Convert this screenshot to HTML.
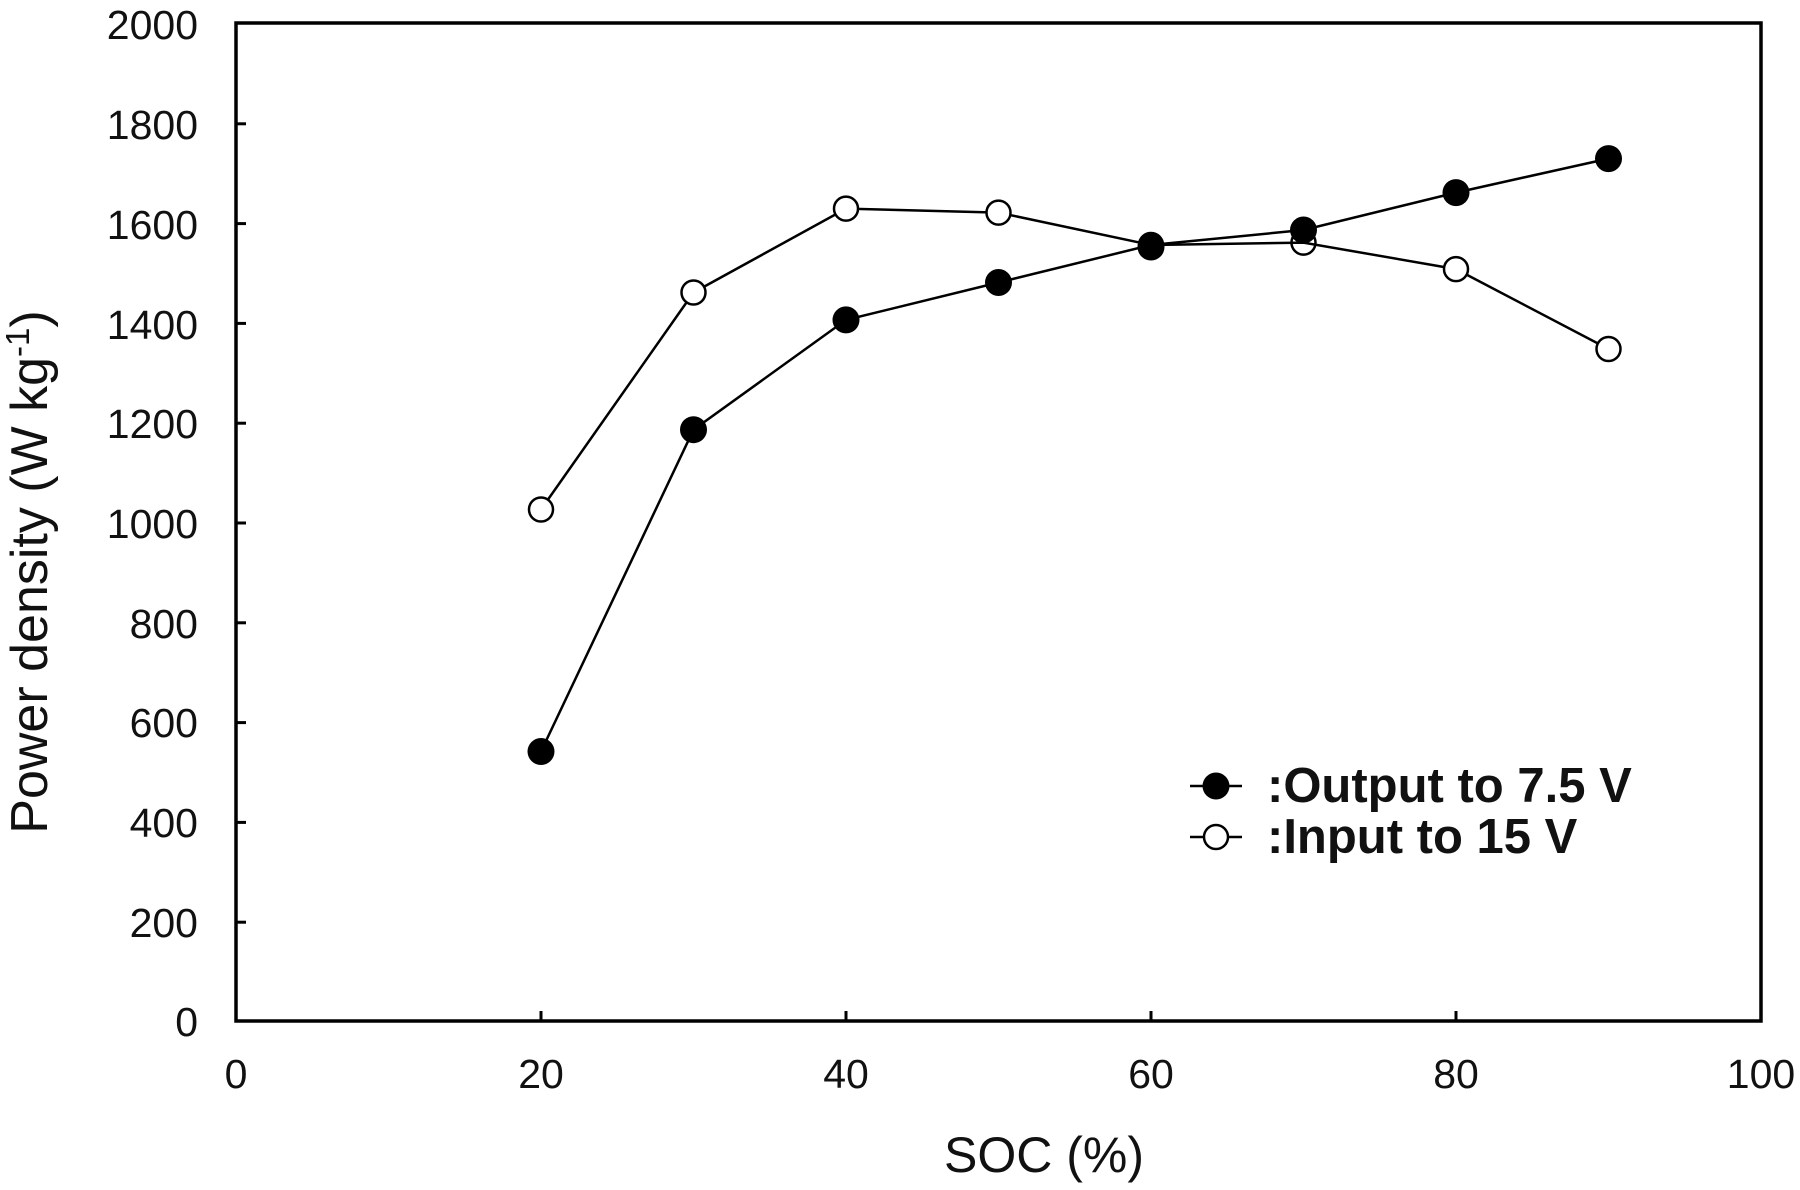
<!DOCTYPE html>
<html><head><style>body{margin:0;background:#fff}</style></head><body>
<svg width="1800" height="1185" viewBox="0 0 1800 1185" xmlns="http://www.w3.org/2000/svg" font-family="Liberation Sans, Arial, sans-serif">
<rect width="1800" height="1185" fill="#fff"/>
<rect x="236" y="23" width="1525" height="998" fill="none" stroke="#000" stroke-width="3.5"/>
<g stroke="#000" stroke-width="3">
<line x1="236" y1="922.2" x2="246" y2="922.2"/><line x1="236" y1="822.4" x2="246" y2="822.4"/><line x1="236" y1="722.6" x2="246" y2="722.6"/><line x1="236" y1="622.8" x2="246" y2="622.8"/><line x1="236" y1="523" x2="246" y2="523"/><line x1="236" y1="423.2" x2="246" y2="423.2"/><line x1="236" y1="323.4" x2="246" y2="323.4"/><line x1="236" y1="223.6" x2="246" y2="223.6"/><line x1="236" y1="123.8" x2="246" y2="123.8"/>
<line x1="541" y1="1021" x2="541" y2="1011"/><line x1="846" y1="1021" x2="846" y2="1011"/><line x1="1151" y1="1021" x2="1151" y2="1011"/><line x1="1456" y1="1021" x2="1456" y2="1011"/>
</g>
<g font-size="41" text-anchor="end" fill="#111">
<text x="198" y="1036">0</text><text x="198" y="937">200</text><text x="198" y="837">400</text><text x="198" y="737">600</text><text x="198" y="638">800</text><text x="198" y="538">1000</text><text x="198" y="438">1200</text><text x="198" y="339">1400</text><text x="198" y="239">1600</text><text x="198" y="139">1800</text><text x="198" y="39">2000</text>
</g>
<g font-size="41" text-anchor="middle" fill="#111">
<text x="236" y="1088">0</text><text x="541" y="1088">20</text><text x="846" y="1088">40</text><text x="1151" y="1088">60</text><text x="1456" y="1088">80</text><text x="1761" y="1088">100</text>
</g>
<text x="1044" y="1172" font-size="50" text-anchor="middle" fill="#111">SOC (%)</text>
<text transform="translate(47,572) rotate(-90)" font-size="52" text-anchor="middle" fill="#111">Power density (W kg<tspan dy="-18" font-size="33">-1</tspan><tspan dy="18">)</tspan></text>
<polyline fill="none" stroke="#000" stroke-width="2.5" points="541,751.5 693.5,429.7 846,319.9 998.5,282.5 1151,245 1303.5,230 1456,192.6 1608.5,158.6"/>
<polyline fill="none" stroke="#000" stroke-width="2.5" points="541,509.5 693.5,292.5 846,208.6 998.5,212.6 1151,245 1303.5,242.6 1456,269.1 1608.5,349"/>
<g fill="#000">
<circle cx="541" cy="751.5" r="13.5"/><circle cx="693.5" cy="429.7" r="13.5"/><circle cx="846" cy="319.9" r="13.5"/><circle cx="998.5" cy="282.5" r="13.5"/><circle cx="1151" cy="247" r="13.5"/><circle cx="1303.5" cy="230" r="13.5"/><circle cx="1456" cy="192.6" r="13.5"/><circle cx="1608.5" cy="158.6" r="13.5"/>
</g>
<g fill="#fff" stroke="#000" stroke-width="2.5">
<circle cx="541" cy="509.5" r="12"/><circle cx="693.5" cy="292.5" r="12"/><circle cx="846" cy="208.6" r="12"/><circle cx="998.5" cy="212.6" r="12"/><circle cx="1151" cy="245" r="12" fill="none"/><circle cx="1303.5" cy="242.6" r="12" fill="none"/><circle cx="1456" cy="269.1" r="12"/><circle cx="1608.5" cy="349" r="12"/>
</g>
<line x1="1190" y1="786" x2="1242" y2="786" stroke="#000" stroke-width="2.5"/>
<circle cx="1216" cy="786" r="13.5" fill="#000"/>
<line x1="1190" y1="837" x2="1242" y2="837" stroke="#000" stroke-width="2.5"/>
<circle cx="1216" cy="837" r="12" fill="#fff" stroke="#000" stroke-width="2.5"/>
<g font-size="49" font-weight="bold" fill="#111">
<text x="1267" y="802">:Output to 7.5 V</text>
<text x="1267" y="853">:Input to 15 V</text>
</g>
</svg>
</body></html>
